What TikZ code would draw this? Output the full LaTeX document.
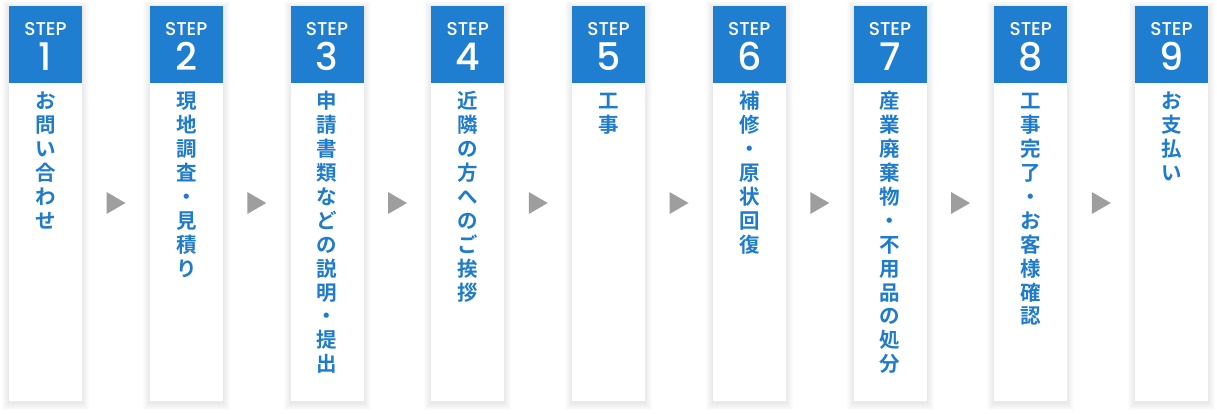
\documentclass[tikz,border=0pt]{standalone}
\usepackage{fontspec}
\newfontfamily\cjk{Noto Sans CJK JP Bold}
\newfontfamily\pop{Poppins Medium}
\definecolor{stepblue}{HTML}{1F7ED0}
\definecolor{txtblue}{HTML}{1F7BCB}
\definecolor{arrgray}{HTML}{9E9E9E}
\tikzset{
  stepbox/.style={fill=white, minimum width=73pt, minimum height=395pt, inner sep=0pt, outer sep=0pt},
  stephead/.style={fill=stepblue, minimum width=73pt, minimum height=77pt, inner sep=0pt, outer sep=0pt},
  steplabel/.style={text=white, font=\pop\fontsize{18.5}{18.5}\selectfont, anchor=base, inner sep=0pt},
  stepnum/.style={text=white, font=\pop\fontsize{38}{38}\selectfont, anchor=base, inner sep=0pt},
  stepchar/.style={text=txtblue, font=\cjk\fontsize{20.5}{20.5}\selectfont, inner sep=0pt, text height=0.88em, text depth=0.12em},
  stepshadow/.style={fill=black, opacity=0.012},
  steparrow/.style={fill=arrgray}
}
\begin{document}
\begin{tikzpicture}[x=1pt,y=-1pt]
\useasboundingbox (0,0) rectangle (1217,413);
\fill[white] (0,0) rectangle (1217,413);
\foreach \i/\txt in {
  1/{お,問,い,合,わ,せ},
  2/{現,地,調,査,・,見,積,り},
  3/{申,請,書,類,な,ど,の,説,明,・,提,出},
  4/{近,隣,の,方,へ,の,ご,挨,拶},
  5/{工,事},
  6/{補,修,・,原,状,回,復},
  7/{産,業,廃,棄,物,・,不,用,品,の,処,分},
  8/{工,事,完,了,・,お,客,様,確,認},
  9/{お,支,払,い}} {
  \pgfmathsetmacro\xl{9+140.75*(\i-1)}
  \pgfmathsetmacro\xc{\xl+36.5}
  \foreach \r in {1,...,7} {
    \fill[stepshadow] (\xl-\r,6-\r+2) rectangle (\xl+73+\r,401+\r+2);
  }
  \node[stepbox] (b\i) at (\xc,203.5) {};
  \node[stephead, anchor=north] (h\i) at (b\i.north) {};
  \node[steplabel] (l\i) at (\xc,35) {STEP};
  \node[stepnum] (n\i) at (\xc,70.5) {\i};
  \foreach \c [count=\k] in \txt {
    \node[stepchar] (c\i-\k) at (\xc,{105+23.9*(\k-1)}) {\c};
  }
  \ifnum\i<9
    \coordinate (a\i) at ({\xl+73+34},203);
    \fill[steparrow] ([xshift=-9.5pt,yshift=11pt]a\i) -- ([xshift=9.5pt]a\i) -- ([xshift=-9.5pt,yshift=-11pt]a\i) -- cycle;
  \fi
}
\end{tikzpicture}
\end{document}
